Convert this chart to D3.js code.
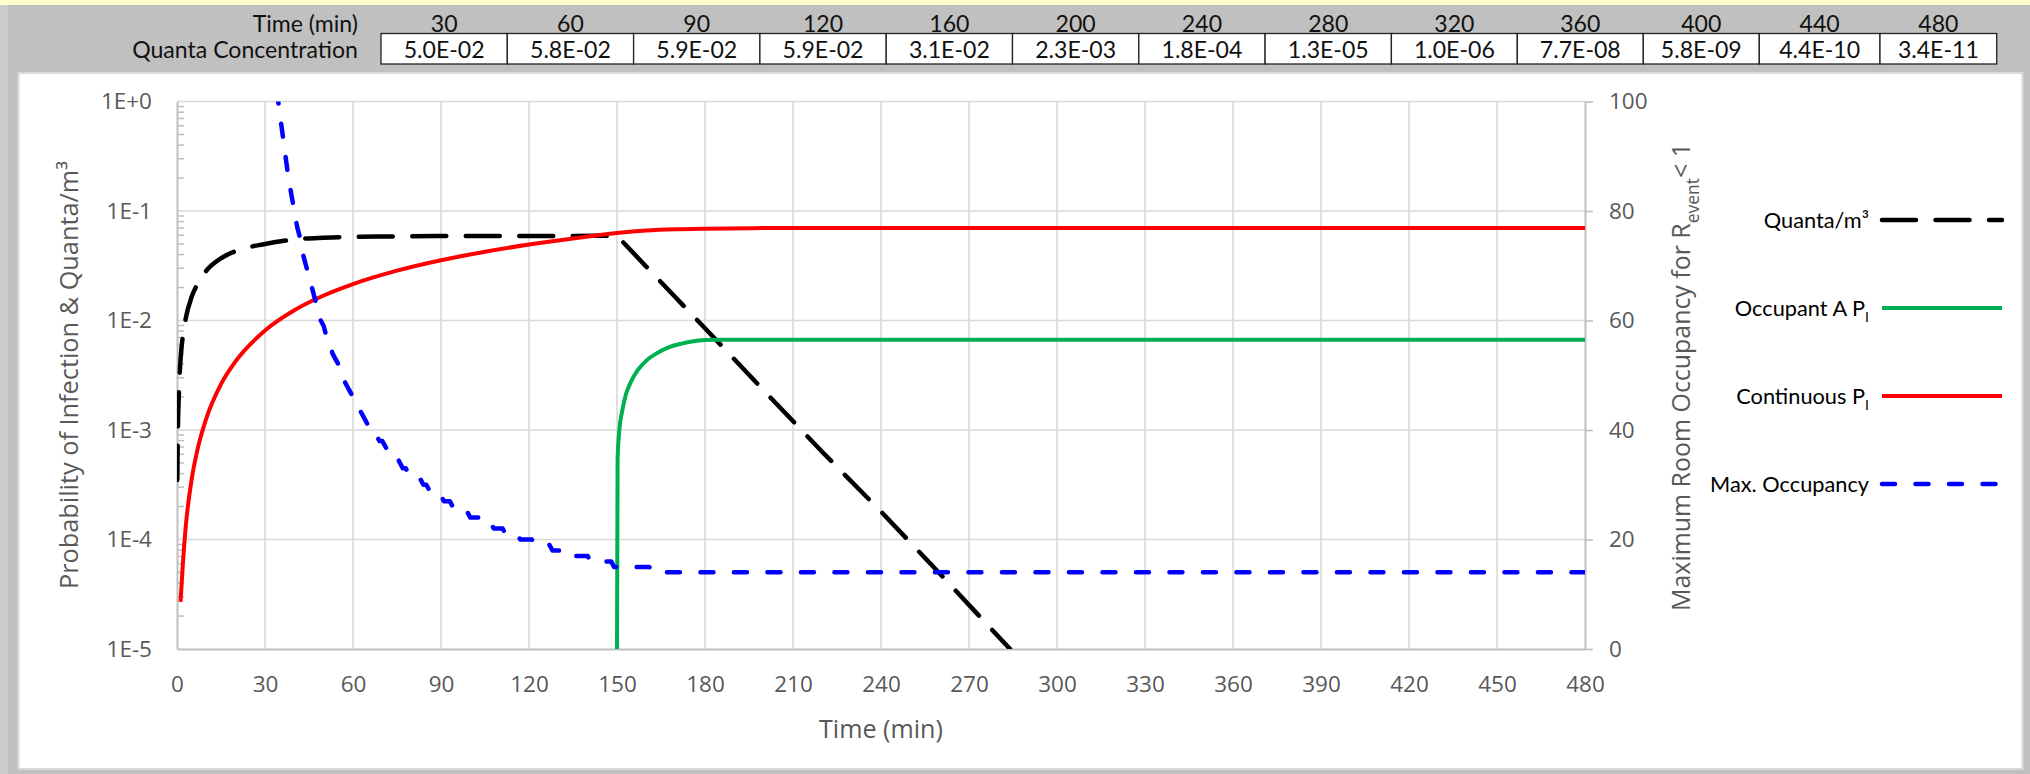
<!DOCTYPE html>
<html><head><meta charset="utf-8">
<script src="https://cdn.jsdelivr.net/npm/d3@7/dist/d3.min.js"></script>
<style>body{margin:0;background:#c0c0c0;} svg{display:block;}</style>
</head><body>
<svg id="c" width="2030" height="774"></svg>
<script>
// ---------------- data ----------------
const tableTimes = [30, 60, 90, 120, 160, 200, 240, 280, 320, 360, 400, 440, 480];
const tableQuanta = ["5.0E-02","5.8E-02","5.9E-02","5.9E-02","3.1E-02","2.3E-03","1.8E-04","1.3E-05","1.0E-06","7.7E-08","5.8E-09","4.4E-10","3.4E-11"];

const xTicks = [0, 30, 60, 90, 120, 150, 180, 210, 240, 270, 300, 330, 360, 390, 420, 450, 480];
const yLeftTicks = [1, 1e-1, 1e-2, 1e-3, 1e-4, 1e-5];
const yLeftLabels = ["1E+0", "1E-1", "1E-2", "1E-3", "1E-4", "1E-5"];
const yRightTicks = [0, 20, 40, 60, 80, 100];

// Quanta/m3 (time min, quanta/m3): build-up, then decay after source leaves
const quantaRise = [[0.1,3.5e-4],[0.3,1.0e-3],[0.6,2.0e-3],[1,3.6e-3],[1.5,5.5e-3],[2,7.2e-3],[3,1.05e-2],[5,1.65e-2],[7,2.15e-2],[10,2.85e-2],[15,3.7e-2],[20,4.3e-2],[30,5.0e-2],[40,5.5e-2],[50,5.7e-2],[60,5.8e-2],[75,5.85e-2],[90,5.9e-2],[120,5.9e-2],[150,5.95e-2]];
const quantaDecay = [[160,3.1e-2],[170,1.62e-2],[180,8.5e-3],[200,2.3e-3],[220,6.3e-4],[240,1.8e-4],[260,4.9e-5],[280,1.3e-5],[284,1.0e-5]];

// Occupant A probability of infection
const occupantA = [[150,1e-5],[150.2,5.4e-4],[150.8,1.0e-3],[151.8,1.5e-3],[153,2.1e-3],[154.6,2.7e-3],[157,3.5e-3],[160,4.3e-3],[164,5.1e-3],[168,5.75e-3],[172,6.15e-3],[176,6.45e-3],[180,6.62e-3],[184,6.68e-3],[480,6.68e-3]];

// Continuous occupant probability of infection
const continuous = [[1.2,2.7e-5],[2,6.0e-5],[3,1.33e-4],[5,3.54e-4],[7,6.65e-4],[10,1.28e-3],[15,2.62e-3],[20,4.25e-3],[30,8.1e-3],[40,1.24e-2],[50,1.69e-2],[60,2.15e-2],[75,2.85e-2],[90,3.55e-2],[105,4.24e-2],[120,4.94e-2],[135,5.62e-2],[150,6.30e-2],[160,6.63e-2],[170,6.81e-2],[180,6.90e-2],[200,6.98e-2],[240,7.0e-2],[480,7.0e-2]];

// Maximum room occupancy (right axis)
const maxOcc = [[34,102],[35,98],[36,94],[37,90],[38,86],[39,83],[40,80],[41,77],[42,75],[43,72],[44,70],[45,68],[46,66],[47,64],[48,62],[49,60],[50,59],[51,57],[52,56],[53,54],[54,53],[55,52],[56,50],[57,49],[58,48],[59,47],[60,46],[61,45],[62,44],[63,43],[64,42],[65,41],[66,41],[67,40],[68,39],[69,38],[70,38],[71,37],[72,36],[73,36],[74,35],[75,35],[76,34],[77,33],[78,33],[79,32],[80,32],[81,31],[83,31],[84,30],[85,30],[86,29],[87,29],[88,28],[90,28],[91,27],[93,27],[94,26],[96,26],[97,25],[99,25],[100,24],[103,24],[104,23],[107,23],[108,22],[111,22],[112,21],[116,21],[117,20],[121,20],[122,19],[127,19],[128,18],[133,18],[134,17],[140,17],[141,16],[148,16],[149,15],[161,15],[162,14],[480,14]];

const legendLabels = [["Quanta/m³", null], ["Occupant A P", "I"], ["Continuous P", "I"], ["Max. Occupancy", null]];

// ---------------- layout ----------------
const svg = d3.select("#c");
const W = 2030, H = 774;
const PL = 177, PR = 1585, PT = 101.5, PB = 649;
const tickFont = "'Open Sans', 'Segoe UI', sans-serif";
const calFont = "Lato, 'Open Sans', sans-serif";
const gray = "#595959";

function fitText(sel, target) {
  const w = sel.node().getComputedTextLength();
  const fs = parseFloat(sel.attr("font-size"));
  const nfs = fs * target / w;
  sel.attr("font-size", nfs.toFixed(2));
  return nfs;
}

// background
svg.append("rect").attr("width", W).attr("height", H).attr("fill", "#c0c0c0");
svg.append("rect").attr("x", 0).attr("y", 0).attr("width", 8).attr("height", H).attr("fill", "#cbcbcb");
svg.append("rect").attr("x", 0).attr("y", 0).attr("width", W).attr("height", 5).attr("fill", "#ffffcc");
svg.append("rect").attr("x", 18.5).attr("y", 73).attr("width", 2004).attr("height", 696)
  .attr("fill", "#fff").attr("stroke", "#d9d9d9").attr("stroke-width", 2);

// ---------------- table ----------------
const colEdges = [381, 507.3, 633.6, 759.9, 886.2, 1012.5, 1138.8, 1265.1, 1391.4, 1517.3, 1643.3, 1759.3, 1880, 1996.7];
const tbl = svg.append("g");
const lab1 = tbl.append("text").attr("x", 358).attr("y", 23).attr("text-anchor", "end")
  .attr("dominant-baseline", "central").attr("font-family", calFont).attr("font-size", 22)
  .attr("fill", "#111").text("Time (min)");
const lab2 = tbl.append("text").attr("x", 358).attr("y", 49).attr("text-anchor", "end")
  .attr("dominant-baseline", "central").attr("font-family", calFont).attr("font-size", 22)
  .attr("fill", "#111").text("Quanta Concentration");
const tfs = fitText(lab2, 226);
lab1.attr("font-size", tfs.toFixed(2));

tableTimes.forEach((t, i) => {
  const x0 = colEdges[i], x1 = colEdges[i + 1], cx = (x0 + x1) / 2;
  tbl.append("rect").attr("x", x0).attr("y", 33.5).attr("width", x1 - x0).attr("height", 30.5)
    .attr("fill", "#fff").attr("stroke", "#222").attr("stroke-width", 1.3);
  tbl.append("text").attr("x", cx).attr("y", 23).attr("text-anchor", "middle")
    .attr("dominant-baseline", "central").attr("font-family", calFont).attr("font-size", tfs.toFixed(2))
    .attr("fill", "#111").text(t);
  tbl.append("text").attr("x", cx).attr("y", 49).attr("text-anchor", "middle")
    .attr("dominant-baseline", "central").attr("font-family", calFont).attr("font-size", tfs.toFixed(2))
    .attr("fill", "#111").text(tableQuanta[i]);
});

// ---------------- scales ----------------
const x = d3.scaleLinear().domain([0, 480]).range([PL, PR]);
const yL = d3.scaleLog().domain([1e-5, 1]).range([PB, PT]);
const yR = d3.scaleLinear().domain([0, 100]).range([PB, PT]);

// gridlines
const grid = svg.append("g").attr("stroke", "#d9d9d9").attr("stroke-width", 1.6);
yLeftTicks.filter(d => d !== 1e-5).forEach(d => {
  grid.append("line").attr("x1", PL).attr("x2", PR).attr("y1", yL(d)).attr("y2", yL(d));
});
xTicks.filter(d => d !== 0 && d !== 480).forEach(d => {
  grid.append("line").attr("x1", x(d)).attr("x2", x(d)).attr("y1", PT).attr("y2", PB);
});

// minor ticks on log axis (inside)
const minor = svg.append("g").attr("stroke", "#bfbfbf").attr("stroke-width", 1.5);
[1e-5, 1e-4, 1e-3, 1e-2, 1e-1].forEach(dec => {
  for (let k = 2; k <= 9; k++) {
    const yy = yL(dec * k);
    minor.append("line").attr("x1", PL).attr("x2", PL + 7).attr("y1", yy).attr("y2", yy);
  }
});

// axes
function styleAxis(g) {
  g.select(".domain").attr("stroke", "#bfbfbf").attr("stroke-width", 2);
  g.selectAll(".tick line").attr("stroke", "#bfbfbf").attr("stroke-width", 1.6);
  g.selectAll(".tick text").attr("fill", gray).attr("font-family", tickFont).attr("font-size", 22.5);
}
const axL = svg.append("g").attr("transform", `translate(${PL},0)`)
  .call(d3.axisLeft(yL).tickValues(yLeftTicks).tickFormat((d, i) => yLeftLabels[i]).tickSize(0).tickSizeOuter(0).tickPadding(25));
styleAxis(axL);
const axB = svg.append("g").attr("transform", `translate(0,${PB})`)
  .call(d3.axisBottom(x).tickValues(xTicks).tickFormat(d3.format("d")).tickSize(0).tickSizeOuter(0).tickPadding(27));
styleAxis(axB);
const axR = svg.append("g").attr("transform", `translate(${PR},0)`)
  .call(d3.axisRight(yR).tickValues(yRightTicks).tickFormat(d3.format("d")).tickSize(8).tickSizeOuter(0).tickPadding(16));
styleAxis(axR);

// axis titles
const tL = svg.append("text").attr("transform", "translate(68,375) rotate(-90)")
  .attr("text-anchor", "middle").attr("dominant-baseline", "central")
  .attr("font-family", tickFont).attr("font-size", 22).attr("fill", gray)
  .text("Probability of Infection & Quanta/m³");
fitText(tL, 428);
const tR = svg.append("text").attr("transform", "translate(1680,377) rotate(-90)")
  .attr("text-anchor", "middle").attr("dominant-baseline", "central")
  .attr("font-family", tickFont).attr("font-size", 22).attr("fill", gray);
tR.append("tspan").text("Maximum Room Occupancy for R");
tR.append("tspan").attr("font-size", "70%").attr("baseline-shift", "sub").text("event");
tR.append("tspan").text("< 1");
fitText(tR, 468);
const tX = svg.append("text").attr("x", 881).attr("y", 728)
  .attr("text-anchor", "middle").attr("dominant-baseline", "central")
  .attr("font-family", tickFont).attr("font-size", 22).attr("fill", gray).text("Time (min)");
fitText(tX, 124);

// ---------------- series ----------------
svg.append("clipPath").attr("id", "plotclip").append("rect")
  .attr("x", PL).attr("y", PT).attr("width", PR - PL).attr("height", PB - PT);
const plot = svg.append("g").attr("clip-path", "url(#plotclip)");

const lineMono = d3.line().x(d => x(d[0])).y(d => yL(d[1])).curve(d3.curveMonotoneX);
const lineLin = d3.line().x(d => x(d[0])).y(d => yL(d[1]));
const lineR = d3.line().x(d => x(d[0])).y(d => yR(d[1]));

const styles = {
  black: { stroke: "#000000", width: 4.5, dash: "34,19.5", cap: "round" },
  green: { stroke: "#00b050", width: 4, dash: null, cap: "butt" },
  red:   { stroke: "#ff0000", width: 4, dash: null, cap: "butt" },
  blue:  { stroke: "#0000ff", width: 4.5, dash: "13,20.5", cap: "round" }
};
function drawPath(g, d, s) {
  const p = g.append("path").attr("d", d).attr("fill", "none").attr("stroke", s.stroke)
    .attr("stroke-width", s.width).attr("stroke-linecap", s.cap).attr("stroke-linejoin", "round");
  if (s.dash) p.attr("stroke-dasharray", s.dash);
  return p;
}

drawPath(plot, lineMono(quantaRise) + lineLin(quantaDecay).replace(/^M/, "L"), styles.black);
drawPath(plot, lineMono(occupantA), styles.green);
drawPath(plot, lineMono(continuous), styles.red);
drawPath(plot, lineR(maxOcc), styles.blue);

// ---------------- legend ----------------
const legY = [220, 308, 396, 484];
const legStyles = [styles.black, styles.green, styles.red, styles.blue];
const leg = svg.append("g");
const legTexts = legendLabels.map((lab, i) => {
  const t = leg.append("text").attr("x", 1869).attr("y", legY[i]).attr("text-anchor", "end")
    .attr("dominant-baseline", "central").attr("font-family", calFont).attr("font-size", 22).attr("fill", "#000");
  t.append("tspan").text(lab[0]);
  if (lab[1]) t.append("tspan").attr("font-size", "65%").attr("baseline-shift", "sub").text(lab[1]);
  return t;
});
const lfs = fitText(legTexts[3], 159);
legTexts.forEach(t => t.attr("font-size", lfs.toFixed(2)));
legY.forEach((yy, i) => {
  drawPath(leg, `M1882,${yy}L2002,${yy}`, legStyles[i]);
});
</script>
</body></html>
